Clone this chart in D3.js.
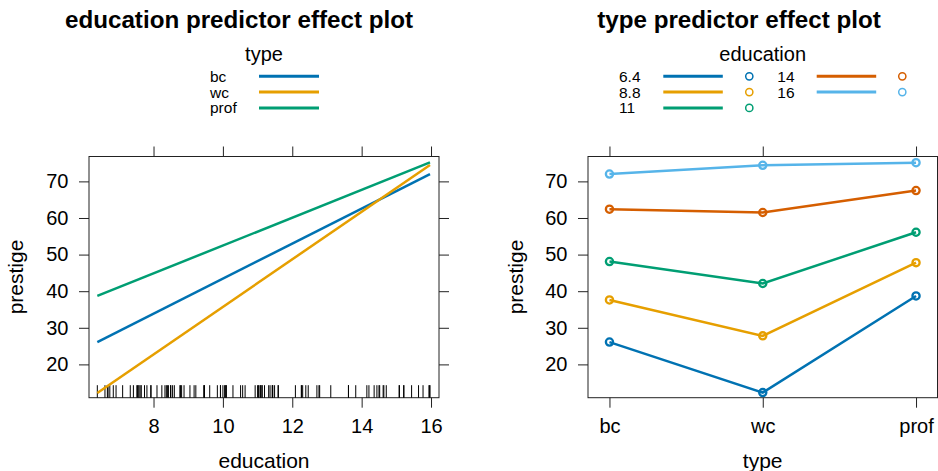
<!DOCTYPE html>
<html><head><meta charset="utf-8">
<script src="https://cdn.jsdelivr.net/npm/d3@7"></script>
<style>
html,body{margin:0;padding:0;background:#fff;}
svg{display:block;font-family:"Liberation Sans",Arial,Helvetica,sans-serif;}
</style></head>
<body>
<svg id="chart" width="938" height="471"></svg>
<script>
// ---------- data ----------
const types = ["bc", "wc", "prof"];
const typeColors = ["#0072B2", "#E69F00", "#009E73"];
// left panel: fitted lines over the observed education range
const lineEdu = [6.38, 15.97];
const bcLine = [26.1, 72.0];
const wcLine = [12.2, 74.5];
const profLine = [38.7, 75.2];
// right panel: fitted prestige at education levels, by type (bc, wc, prof)
const eduLabels = ["6.4", "8.8", "11", "14", "16"];
const eduColors = ["#0072B2", "#E69F00", "#009E73", "#D55E00", "#56B4E9"];
const fit64 = [26.1, 12.3, 38.7];
const fit88 = [37.6, 27.8, 47.8];
const fit11 = [48.1, 42.1, 56.1];
const fit14 = [62.4, 61.5, 67.5];
const fit16 = [72.0, 74.4, 75.1];
// rug: observed education values
const eduRug = [13.11,12.26,12.77,11.42,14.62,15.64,15.09,15.44,14.52,14.64,12.39,12.30,13.83,14.44,14.36,14.21,15.77,14.15,15.22,14.50,15.97,13.62,15.08,15.96,15.94,14.71,12.46,9.45,13.62,15.21,12.79,11.09,12.71,11.44,11.59,11.49,11.32,10.64,11.36,9.17,12.09,11.04,9.22,10.07,10.51,11.20,11.13,11.43,11.00,9.84,11.13,10.05,9.62,9.93,11.60,11.09,11.03,9.47,10.93,7.74,8.50,10.57,9.46,7.33,7.11,7.58,6.84,8.60,8.88,7.54,7.64,7.64,7.42,6.69,6.74,10.09,8.81,8.40,7.92,8.43,8.78,8.76,10.29,6.38,8.10,10.10,6.67,9.05,9.93,8.24,6.92,6.60,7.81,8.33,7.52,12.27,8.49,7.58,7.93,8.37,10.00,8.55];
const yTicks = [20, 30, 40, 50, 60, 70];
const xTicksEdu = [8, 10, 12, 14, 16];

// ---------- layout ----------
const svg = d3.select("#chart");
const pTop = 156.5, pBottom = 397.7;
const y = d3.scaleLinear().domain([10.9, 76.8]).range([pBottom, pTop]);
const xL = d3.scaleLinear().domain([6.14, 16.23]).range([89, 439]);
const xR = d3.scalePoint().domain(types).range([588, 937.5]).padding(0.14);
const ink = "#222";

function frame(x0, x1) {
  svg.append("rect").attr("x", x0).attr("y", pTop).attr("width", x1 - x0).attr("height", pBottom - pTop)
    .attr("fill", "none").attr("stroke", ink).attr("stroke-width", 1);
}
function axes(xScale, xTicks, x0, x1, fmt) {
  const gB = svg.append("g").attr("transform", `translate(0,${pBottom})`)
    .call(d3.axisBottom(xScale).tickValues(xTicks).tickSize(10).tickPadding(11).tickFormat(fmt));
  const gT = svg.append("g").attr("transform", `translate(0,${pTop})`)
    .call(d3.axisTop(xScale).tickValues(xTicks).tickSize(10).tickFormat(""));
  const gL = svg.append("g").attr("transform", `translate(${x0},0)`)
    .call(d3.axisLeft(y).tickValues(yTicks).tickSize(10).tickPadding(10.5));
  const gR = svg.append("g").attr("transform", `translate(${x1},0)`)
    .call(d3.axisRight(y).tickValues(yTicks).tickSize(10).tickFormat(""));
  [gB, gT, gL, gR].forEach(g => {
    g.select(".domain").remove();
    g.selectAll("line").attr("stroke", ink);
    g.selectAll("text").attr("font-size", 20).attr("fill", "#000")
      .attr("font-family", '"Liberation Sans",Arial,Helvetica,sans-serif');
  });
}

// ---------- left panel ----------
frame(89, 439);
axes(xL, xTicksEdu, 89, 439, d3.format("d"));
svg.append("g").selectAll("line").data(eduRug).join("line")
  .attr("x1", d => xL(d)).attr("x2", d => xL(d))
  .attr("y1", pBottom).attr("y2", pBottom - 12.5)
  .attr("stroke", "#000").attr("stroke-width", 1);
const leftLines = [bcLine, wcLine, profLine];
const lineGenL = d3.line().x((d, i) => xL(lineEdu[i])).y(d => y(d));
leftLines.forEach((vals, k) => {
  svg.append("path").attr("d", lineGenL(vals)).attr("fill", "none")
    .attr("stroke", typeColors[k]).attr("stroke-width", 2.5);
});

// ---------- right panel ----------
frame(588, 937.5);
axes(xR, types, 588, 937.5, d => d);
const fits = [fit64, fit88, fit11, fit14, fit16];
const lineGenR = d3.line().x((d, i) => xR(types[i])).y(d => y(d));
fits.forEach((vals, k) => {
  svg.append("path").attr("d", lineGenR(vals)).attr("fill", "none")
    .attr("stroke", eduColors[k]).attr("stroke-width", 2.5);
  svg.append("g").selectAll("circle").data(vals).join("circle")
    .attr("cx", (d, i) => xR(types[i])).attr("cy", d => y(d)).attr("r", 3.6)
    .attr("fill", "none").attr("stroke", eduColors[k]).attr("stroke-width", 2.3);
});

// ---------- titles & labels ----------
function text(x, yy, s, size, opts = {}) {
  const t = svg.append("text").attr("x", x).attr("y", yy).text(s)
    .attr("font-size", size).attr("fill", "#000")
    .attr("text-anchor", opts.anchor || "middle");
  if (opts.bold) t.attr("font-weight", "bold");
  if (opts.rot) t.attr("transform", `rotate(-90,${x},${yy})`);
  return t;
}
text(239, 28, "education predictor effect plot", 24.2, {bold: true});
text(739, 28, "type predictor effect plot", 24.2, {bold: true});
text(264, 467.5, "education", 21);
text(762.7, 467.5, "type", 21);
text(22.5, 277, "prestige", 21, {rot: true});
text(522.5, 277, "prestige", 21, {rot: true});

// left legend
text(264, 61, "type", 20);
const rowY = [81.7, 97.5, 113.3];
types.forEach((t, i) => {
  text(210, rowY[i], t, 15.5, {anchor: "start"});
  svg.append("line").attr("x1", 259).attr("x2", 319).attr("y1", rowY[i] - 5.4).attr("y2", rowY[i] - 5.4)
    .attr("stroke", typeColors[i]).attr("stroke-width", 3);
});

// right legend
text(762.7, 61, "education", 20);
const colLabelX = [619, 777.3], colLineX = [663.3, 816.7], colCircX = [749.3, 902.3];
eduLabels.forEach((lab, i) => {
  const c = i < 3 ? 0 : 1, r = i < 3 ? i : i - 3;
  text(colLabelX[c], rowY[r], lab, 15.5, {anchor: "start"});
  svg.append("line").attr("x1", colLineX[c]).attr("x2", colLineX[c] + 59.5)
    .attr("y1", rowY[r] - 5.4).attr("y2", rowY[r] - 5.4)
    .attr("stroke", eduColors[i]).attr("stroke-width", 3);
  svg.append("circle").attr("cx", colCircX[c]).attr("cy", rowY[r] - 5.4).attr("r", 3.6)
    .attr("fill", "none").attr("stroke", eduColors[i]).attr("stroke-width", 1.5);
});
</script>
</body></html>
